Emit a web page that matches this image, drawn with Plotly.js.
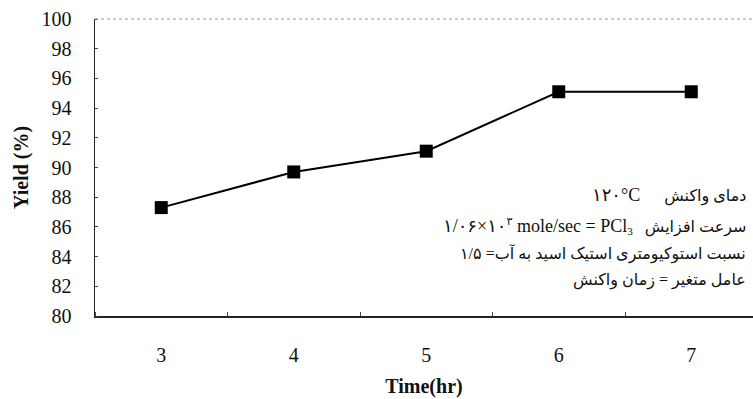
<!DOCTYPE html>
<html>
<head>
<meta charset="utf-8">
<script src="https://cdn.plot.ly/plotly-3.0.1.min.js"></script>
<style>html,body{margin:0;padding:0;background:#fff;}#chart{width:753px;height:399px;}</style>
</head>
<body>
<div id="chart"></div>
<script>
// Data
var timeHr = [3, 4, 5, 6, 7];
var yieldPct = [87.3, 89.7, 91.1, 95.1, 95.1];
var xTickLabels = ['3', '4', '5', '6', '7'];
var yTickVals = [80, 82, 84, 86, 88, 90, 92, 94, 96, 98, 100];

// Condition notes (visual left-to-right order with LRM marks)
var LRM = '\u200E';
var big = function (s) { return '<span style="font-size:18px">' + s + '</span>'; };
var noteLines = [
  LRM + big('۱۲۰°C') + LRM + '      دمای واکنش',
  LRM + big('۱/۰۶' + LRM + '×' + LRM + '۱۰') + '<sup>۳</sup>' + LRM + big(' mole/sec = PCl') + '<sub>3</sub>' + LRM + '   سرعت افزایش',
  LRM + '۱/۵ =' + LRM + 'نسبت استوکیومتری استیک اسید به آب',
  'عامل متغیر = زمان واکنش'
];
var noteY = [0.407, 0.303, 0.209, 0.121];

var serif = 'Liberation Serif';
var noteFont = 'Liberation Serif, DejaVu Sans';

var trace = {
  x: timeHr,
  y: yieldPct,
  type: 'scatter',
  mode: 'lines+markers',
  line: {color: '#000', width: 2},
  marker: {symbol: 'square', size: 13, color: '#000'},
  hoverinfo: 'x+y'
};

var annotations = noteLines.map(function (t, i) {
  return {
    xref: 'paper', yref: 'paper',
    x: 0.9924, y: noteY[i],
    xanchor: 'right', yanchor: 'middle',
    text: t, showarrow: false,
    font: {family: noteFont, size: 16, color: '#111'}
  };
});

var layout = {
  width: 753, height: 399,
  margin: {l: 95, r: 0, t: 19, b: 83},
  paper_bgcolor: '#fff', plot_bgcolor: '#fff',
  showlegend: false,
  font: {family: serif, color: '#111'},
  xaxis: {
    range: [2.5, 7.466],
    tickvals: timeHr,
    ticktext: xTickLabels,
    ticks: '',
    ticklabelstandoff: 20,
    tickfont: {family: serif, size: 20, color: '#111'},
    showgrid: false, zeroline: false,
    showline: true, linecolor: '#222', linewidth: 1.5,
    minor: {tick0: 2.5, dtick: 1, ticks: 'inside', ticklen: 4, tickcolor: '#444', showgrid: false},
    title: {text: '<b>Time(hr)</b>', font: {family: serif, size: 20, color: '#111'}, standoff: 14},
    automargin: false, fixedrange: true
  },
  yaxis: {
    range: [80, 100],
    tickvals: yTickVals,
    ticks: '',
    ticklabelstandoff: 18,
    tickfont: {family: serif, size: 20, color: '#111'},
    showgrid: false, zeroline: false,
    showline: true, linecolor: '#222', linewidth: 1.5,
    minor: {tick0: 80, dtick: 2, ticks: 'inside', ticklen: 3, tickcolor: '#444', showgrid: false},
    title: {text: '<b>Yield (%)</b>', font: {family: serif, size: 20, color: '#111'}, standoff: 7},
    automargin: false, fixedrange: true
  },
  shapes: [{
    type: 'line', xref: 'paper', yref: 'paper',
    x0: 0, x1: 1, y0: 1, y1: 1,
    line: {color: '#999', width: 1, dash: 'dot'}
  }],
  annotations: annotations
};

Plotly.newPlot('chart', [trace], layout, {displayModeBar: false, staticPlot: true});
</script>
</body>
</html>
